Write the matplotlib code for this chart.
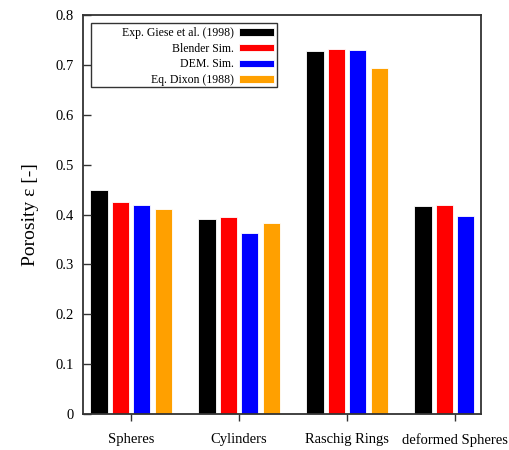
import matplotlib
matplotlib.use("Agg")
import matplotlib.pyplot as plt
from matplotlib.patches import Rectangle
import numpy as np

plt.rcParams['font.family'] = ['Liberation Serif', 'DejaVu Serif']

# data
categories = ['Spheres', 'Cylinders', 'Raschig Rings', 'deformed Spheres']
series_names = ['Exp. Giese et al. (1998)', 'Blender Sim.', 'DEM. Sim.', 'Eq. Dixon (1988)']
exp_giese = [0.450, 0.391, 0.728, 0.417]
blender_sim = [0.425, 0.394, 0.731, 0.419]
dem_sim = [0.419, 0.363, 0.729, 0.396]
eq_dixon = [0.412, 0.383, 0.694, np.nan]
colors = ['#000000', '#ff0000', '#0000ff', '#ffa000']

series = [exp_giese, blender_sim, dem_sim, eq_dixon]

fig = plt.figure(figsize=(5.09, 4.5), dpi=100)
ax = fig.add_axes([83/509, 1 - 414/450, (481-83)/509, (414-15)/450])

x = np.arange(len(categories))
step = 0.198
width = 0.16
for i, (vals, name, c) in enumerate(zip(series, series_names, colors)):
    ax.bar(x + (i - 1.5)*step, vals, width, color=c, edgecolor='white',
           linewidth=0.6, label=name)

ax.set_xlim(-0.446, 3.24)
ax.set_ylim(0, 0.8)
ax.set_yticks(np.arange(0, 0.81, 0.1))
ax.set_yticklabels(['0'] + ['%.1f' % v for v in np.arange(0.1, 0.81, 0.1)])
ax.set_xticks(x)
ax.set_xticklabels(categories)

for s in ax.spines.values():
    s.set_color('#333333')
    s.set_linewidth(1.3)
ax.tick_params(axis='y', direction='in', length=6, width=1, color='#333333',
               labelsize=10.5, pad=6.5)
ax.tick_params(axis='x', direction='out', length=5, width=1, color='#333333',
               labelsize=10.5, pad=9)

ax.set_ylabel('Porosity ε [-]', fontsize=14, labelpad=12)

# legend: text right of box, handles on the right, plain box drawn by hand
leg = ax.legend(loc='upper right', bbox_to_anchor=(0.487, 0.975), markerfirst=False,
                fontsize=8.5, frameon=False, handlelength=3.0,
                handleheight=0.6, labelspacing=0.3, borderpad=0.2,
                handletextpad=0.4, borderaxespad=0)
for t in leg.get_texts():
    t.set_ha('right')
ax.add_patch(Rectangle((0.020, 0.820), 0.467, 0.160, transform=ax.transAxes,
                       fill=False, edgecolor='#333333', linewidth=1.0, zorder=5))

fig.savefig('out.png', dpi=100)
